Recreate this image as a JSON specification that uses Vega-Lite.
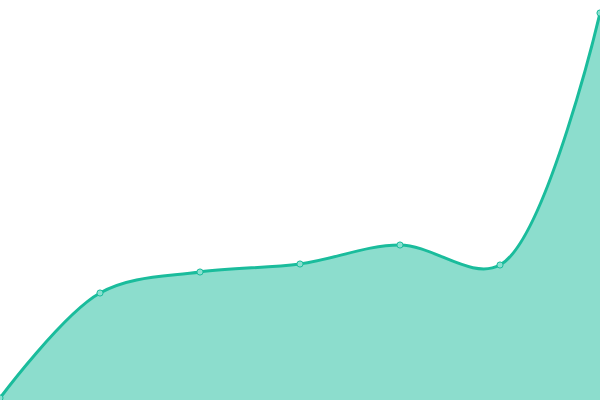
{
  "$schema": "https://vega.github.io/schema/vega-lite/v6.json",
  "width": 600,
  "height": 400,
  "padding": 0,
  "autosize": {"type": "none"},
  "data": {
    "values": [
      {"step": 0, "value": 0.5},
      {"step": 1, "value": 26.75},
      {"step": 2, "value": 32},
      {"step": 3, "value": 34},
      {"step": 4, "value": 38.75},
      {"step": 5, "value": 33.75},
      {"step": 6, "value": 96.75}
    ]
  },
  "encoding": {
    "x": {"field": "step", "type": "quantitative", "scale": {"domain": [0, 6], "nice": false, "zero": false}, "axis": null},
    "y": {"field": "value", "type": "quantitative", "scale": {"domain": [0, 100], "nice": false}, "axis": null}
  },
  "layer": [
    {
      "mark": {"type": "area", "interpolate": "catmull-rom", "color": "#1abc9c", "opacity": 0.5}
    },
    {
      "mark": {"type": "line", "interpolate": "catmull-rom", "color": "#1abc9c", "strokeWidth": 3}
    },
    {
      "mark": {"type": "point", "filled": true, "fill": "#8ae0d0", "stroke": "#1abc9c", "strokeWidth": 1, "size": 38, "opacity": 1}
    }
  ],
  "config": {
    "background": "white",
    "view": {"stroke": null}
  }
}
